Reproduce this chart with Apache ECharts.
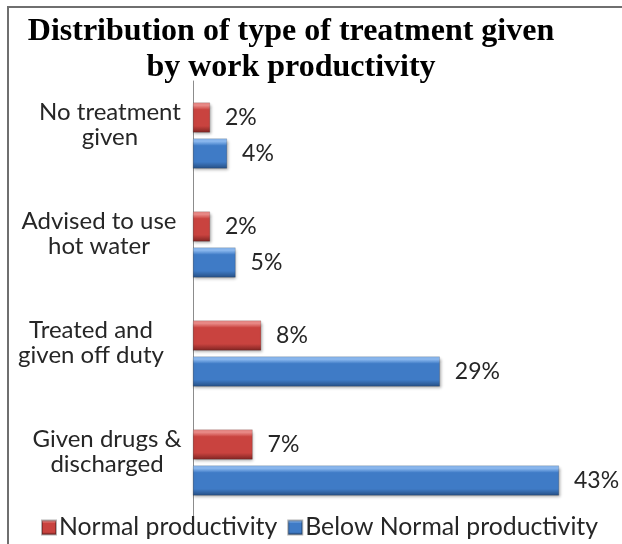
<!DOCTYPE html>
<html>
<head>
<meta charset="utf-8">
<script src="https://cdn.jsdelivr.net/npm/echarts@6/dist/echarts.min.js"></script>
<style>
  html, body { margin: 0; padding: 0; background: #fff; }
  #chart { width: 622px; height: 544px; }
</style>
</head>
<body>
<div id="chart"></div>
<script>
// Treatment categories, listed top to bottom
const categories = [
  'No treatment\ngiven',
  'Advised to use\nhot water',
  'Treated and\ngiven off duty',
  'Given drugs &\ndischarged'
];
const seriesNames = ['Normal productivity', 'Below Normal productivity'];
// Percent of respondents in each group
const normalValues = [2, 2, 8, 7];
const belowNormalValues = [4, 5, 29, 43];

// Width of the box each wrapped category label is centred in
const labelBoxWidths = [146, 168, 184, 152];

function bevel(light, mid, dark) {
  return new echarts.graphic.LinearGradient(0, 0, 0, 1, [
    { offset: 0, color: light },
    { offset: 0.1, color: light },
    { offset: 0.24, color: mid },
    { offset: 0.78, color: mid },
    { offset: 1, color: dark }
  ]);
}
const redFill = bevel('#ea8986', '#c9433f', '#7f2422');
const blueFill = bevel('#8ab8ef', '#3f7bc6', '#264f84');

const labelFont = 'Lato, "Open Sans", sans-serif';
const textColor = '#262626';

const rich = {};
labelBoxWidths.forEach(function (w, i) {
  rich['c' + i] = {
    width: w, align: 'center', fontSize: 24, lineHeight: 25,
    color: textColor, fontFamily: labelFont
  };
});

const chart = echarts.init(document.getElementById('chart'), null, { renderer: 'canvas' });

function barSeries(name, data, fill) {
  return {
    name: name,
    type: 'bar',
    data: data,
    barWidth: 30,
    barGap: '20%',
    itemStyle: {
      color: fill,
      borderColor: 'rgba(0,0,0,0.3)',
      borderWidth: 0.5,
      shadowColor: 'rgba(0,0,0,0.35)',
      shadowBlur: 3,
      shadowOffsetX: 1,
      shadowOffsetY: 2
    },
    label: {
      show: true,
      position: 'right',
      distance: 15,
      formatter: '{c}%',
      fontSize: 23,
      color: textColor,
      fontFamily: labelFont
    }
  };
}

chart.setOption({
  animation: false,
  backgroundColor: '#fff',
  title: {
    text: 'Distribution of type of treatment given\nby work productivity',
    left: 286,
    top: 9,
    textAlign: 'center',
    textStyle: {
      fontFamily: '"Liberation Serif", "Times New Roman", serif',
      fontWeight: 'bold',
      fontSize: 32,
      lineHeight: 36,
      color: '#000'
    }
  },
  legend: {
    bottom: -1,
    left: 36,
    itemWidth: 14,
    itemHeight: 14,
    itemGap: 10,
    icon: 'rect',
    textStyle: { fontSize: 24.8, color: textColor, fontFamily: labelFont, padding: [0, 0, 0, -2] },
    data: seriesNames
  },
  grid: { left: 193, right: 63, top: 81, height: 436, outerBoundsMode: 'none', containLabel: false },
  xAxis: {
    type: 'value',
    min: 0,
    max: 43,
    show: false
  },
  yAxis: {
    type: 'category',
    inverse: true,
    data: categories,
    axisLine: { show: true, lineStyle: { color: '#8c8c8c', width: 1 } },
    axisTick: { show: false },
    axisLabel: {
      margin: 10,
      padding: [0, 0, 22, 0],
      formatter: function (v, i) {
        return v.split('\n').map(function (line) {
          return '{c' + i + '|' + line + '}';
        }).join('\n');
      },
      rich: rich
    }
  },
  series: [
    barSeries(seriesNames[0], normalValues, redFill),
    barSeries(seriesNames[1], belowNormalValues, blueFill)
  ],
  graphic: [{
    type: 'rect',
    silent: true,
    z: 100,
    shape: { x: 8, y: 7, width: 700, height: 700 },
    style: { fill: 'none', stroke: '#6f6f6f', lineWidth: 2 }
  }]
});
</script>
</body>
</html>
